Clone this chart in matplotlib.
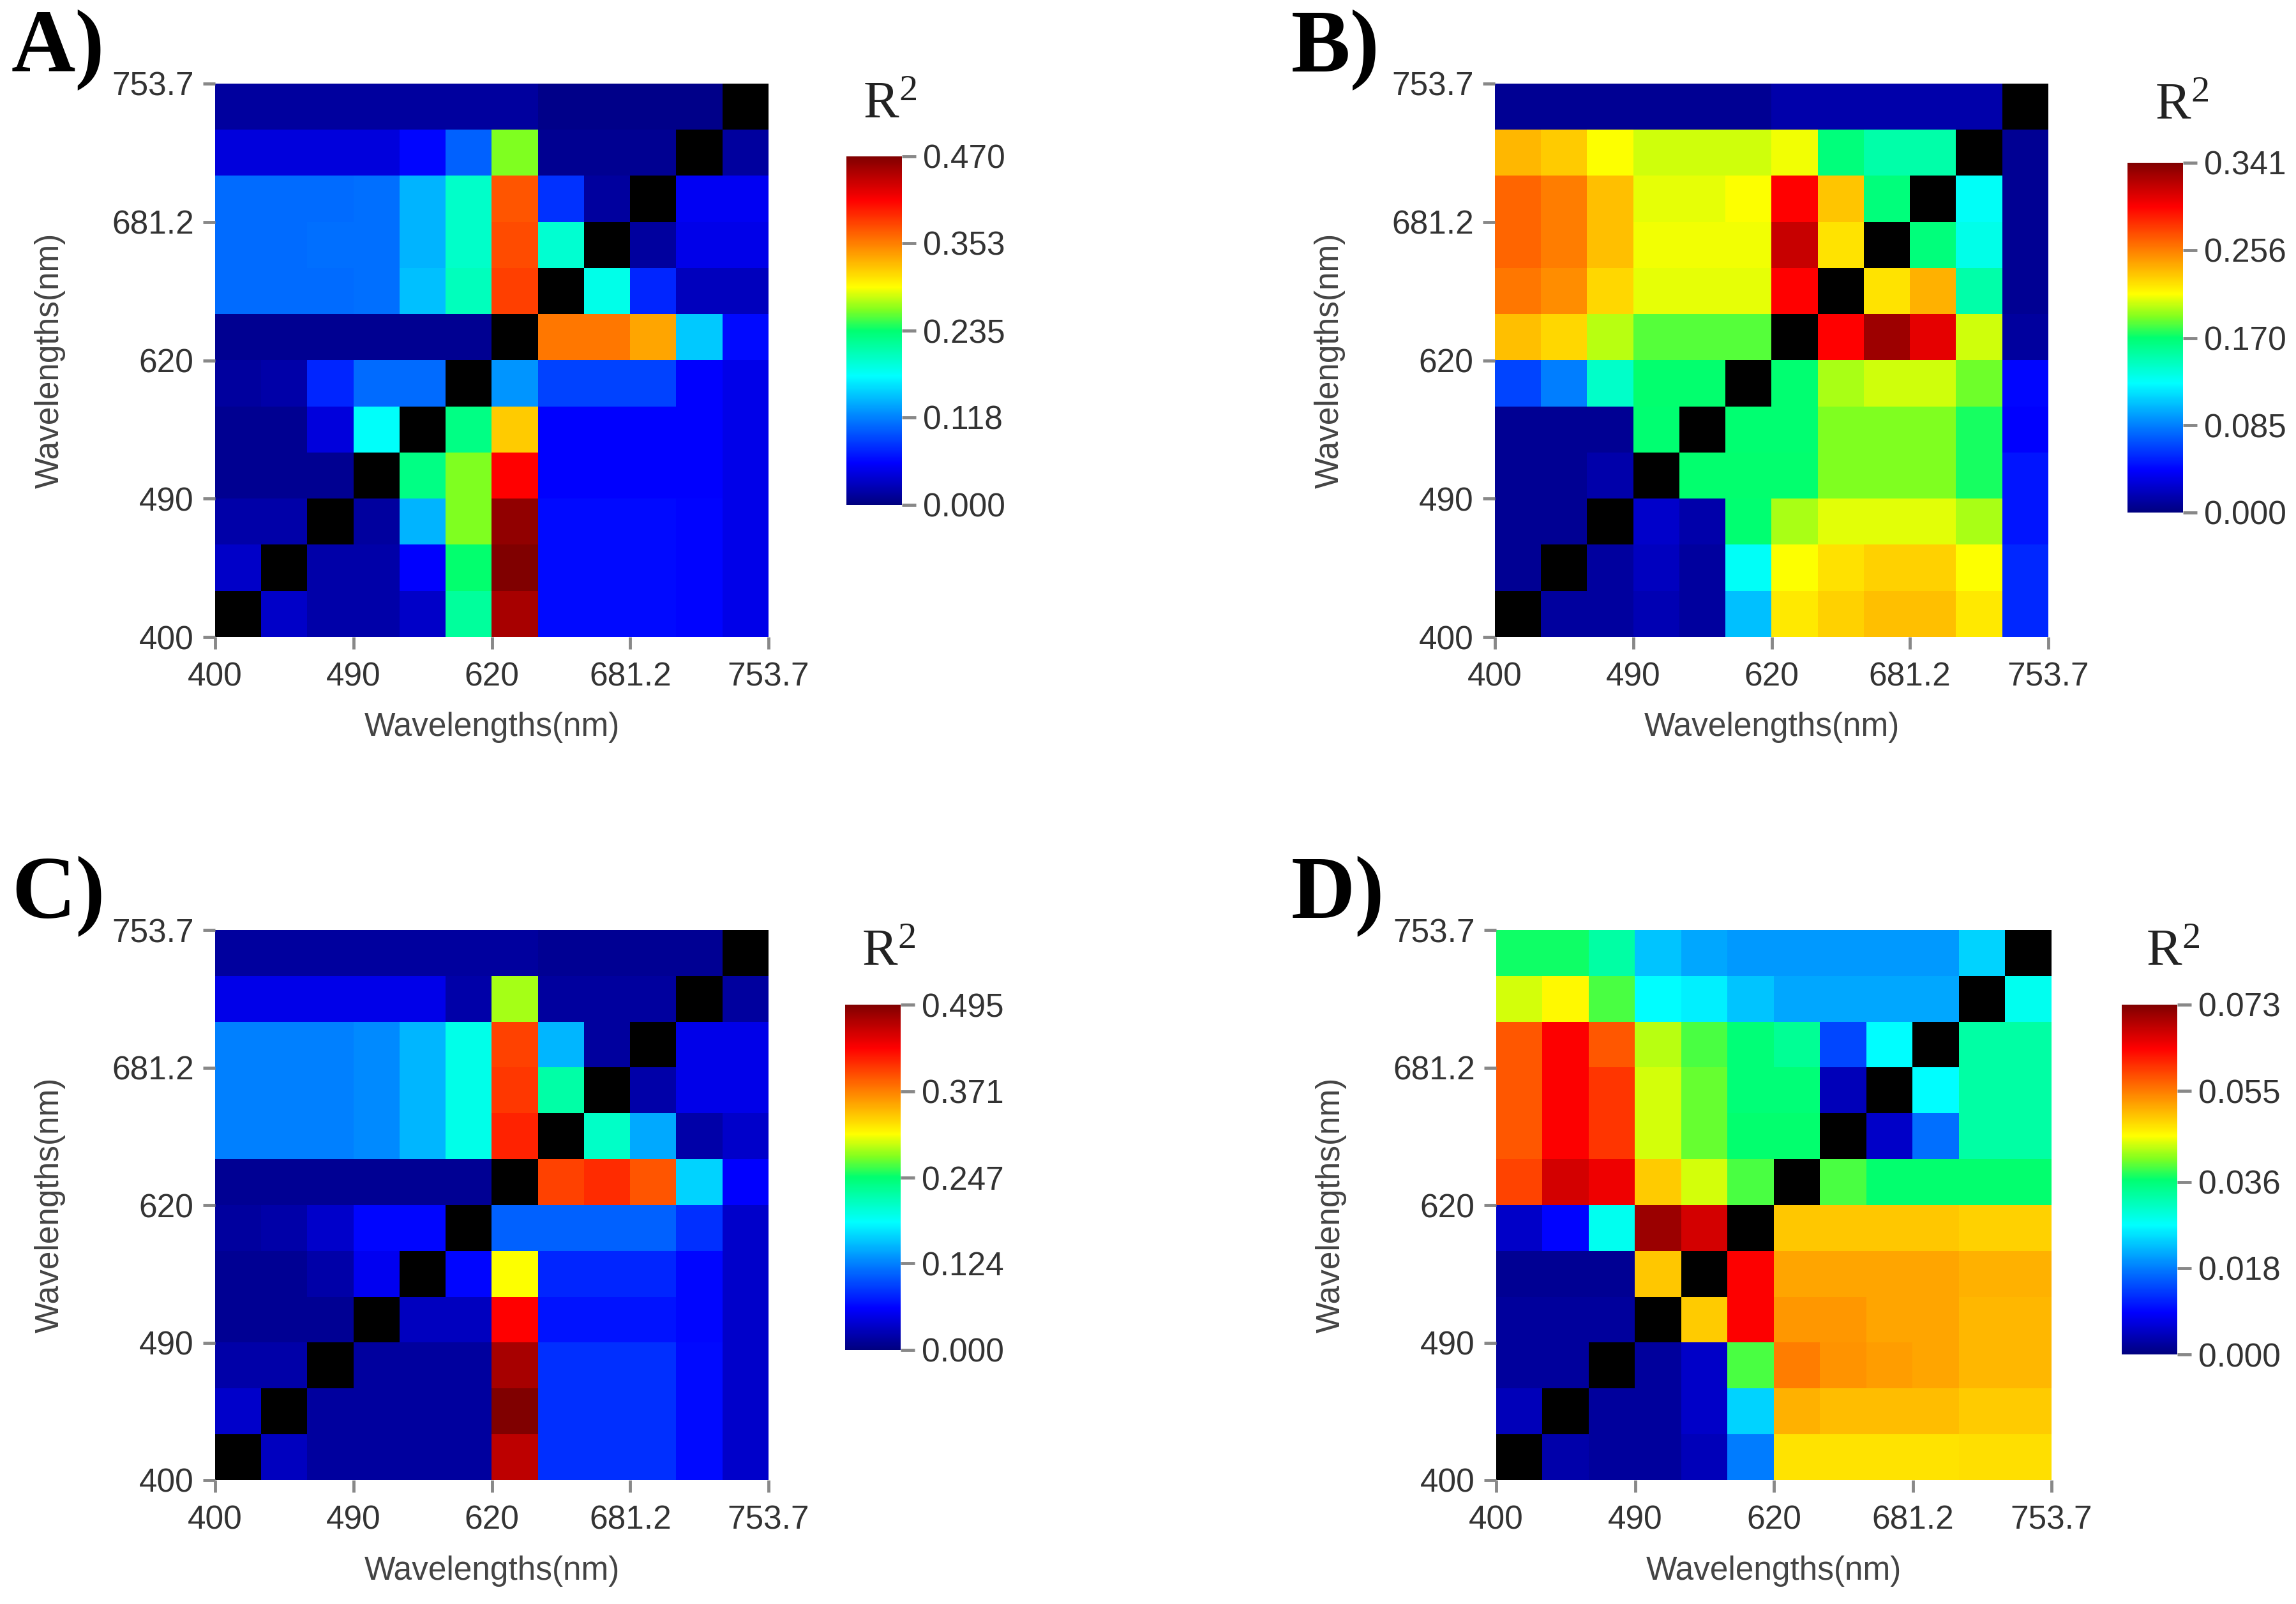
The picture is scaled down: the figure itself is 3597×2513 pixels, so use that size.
import numpy as np
import matplotlib
matplotlib.use("Agg")
import matplotlib.pyplot as plt
from matplotlib.colors import LinearSegmentedColormap

nan = np.nan

# ---------------- data (rows listed from top = 753.7 down to bottom = 400) -------------
wavelength_labels = ["400", "490", "620", "681.2", "753.7"]
wavelength_tick_cells = [0, 3, 6, 9, 12]

A_values = [
    [0.014, 0.014, 0.014, 0.014, 0.014, 0.014, 0.014, 0.005, 0.005, 0.005, 0.005, nan],
    [0.042, 0.042, 0.042, 0.042, 0.059, 0.103, 0.263, 0.009, 0.009, 0.009, nan, 0.014],
    [0.108, 0.108, 0.108, 0.110, 0.141, 0.197, 0.371, 0.080, 0.014, nan, 0.052, 0.052],
    [0.108, 0.108, 0.110, 0.110, 0.141, 0.197, 0.376, 0.193, nan, 0.014, 0.047, 0.047],
    [0.108, 0.108, 0.108, 0.110, 0.146, 0.202, 0.381, nan, 0.183, 0.075, 0.028, 0.028],
    [0.009, 0.009, 0.009, 0.009, 0.009, 0.009, nan, 0.356, 0.356, 0.335, 0.150, 0.061],
    [0.014, 0.019, 0.075, 0.108, 0.108, nan, 0.127, 0.089, 0.089, 0.089, 0.056, 0.047],
    [0.009, 0.009, 0.042, 0.176, nan, 0.226, 0.317, 0.056, 0.056, 0.056, 0.056, 0.047],
    [0.009, 0.009, 0.009, nan, 0.226, 0.263, 0.411, 0.056, 0.056, 0.056, 0.056, 0.047],
    [0.019, 0.019, nan, 0.014, 0.141, 0.263, 0.461, 0.061, 0.061, 0.061, 0.058, 0.047],
    [0.033, nan, 0.019, 0.019, 0.056, 0.235, 0.470, 0.061, 0.061, 0.061, 0.058, 0.047],
    [nan, 0.033, 0.019, 0.019, 0.033, 0.216, 0.451, 0.061, 0.061, 0.061, 0.058, 0.047],
]
A_cbar_ticks = [0.000, 0.118, 0.235, 0.353, 0.470]

B_values = [
    [0.007, 0.007, 0.007, 0.007, 0.007, 0.007, 0.014, 0.014, 0.014, 0.014, 0.014, nan],
    [0.237, 0.230, 0.213, 0.205, 0.205, 0.205, 0.211, 0.167, 0.153, 0.153, nan, 0.007],
    [0.264, 0.256, 0.234, 0.209, 0.209, 0.213, 0.298, 0.232, 0.167, nan, 0.128, 0.007],
    [0.264, 0.256, 0.234, 0.211, 0.211, 0.211, 0.317, 0.222, nan, 0.167, 0.133, 0.007],
    [0.258, 0.251, 0.226, 0.209, 0.209, 0.209, 0.298, nan, 0.222, 0.239, 0.153, 0.007],
    [0.234, 0.226, 0.201, 0.184, 0.184, 0.184, nan, 0.298, 0.331, 0.307, 0.205, 0.010],
    [0.065, 0.085, 0.143, 0.171, 0.171, nan, 0.170, 0.198, 0.205, 0.205, 0.188, 0.043],
    [0.007, 0.007, 0.007, 0.170, nan, 0.170, 0.170, 0.191, 0.191, 0.191, 0.174, 0.041],
    [0.007, 0.007, 0.014, nan, 0.171, 0.171, 0.171, 0.191, 0.191, 0.191, 0.174, 0.048],
    [0.007, 0.007, nan, 0.024, 0.014, 0.170, 0.198, 0.208, 0.208, 0.208, 0.198, 0.048],
    [0.007, nan, 0.010, 0.021, 0.010, 0.128, 0.213, 0.223, 0.228, 0.228, 0.213, 0.055],
    [nan, 0.010, 0.010, 0.017, 0.010, 0.106, 0.220, 0.228, 0.234, 0.234, 0.220, 0.055],
]
B_cbar_ticks = [0.000, 0.085, 0.170, 0.256, 0.341]

C_values = [
    [0.015, 0.015, 0.015, 0.015, 0.015, 0.015, 0.015, 0.010, 0.010, 0.010, 0.010, nan],
    [0.050, 0.050, 0.050, 0.050, 0.050, 0.020, 0.287, 0.015, 0.015, 0.015, nan, 0.015],
    [0.124, 0.124, 0.124, 0.129, 0.149, 0.193, 0.401, 0.149, 0.015, nan, 0.050, 0.050],
    [0.124, 0.124, 0.124, 0.129, 0.149, 0.193, 0.406, 0.223, nan, 0.020, 0.050, 0.050],
    [0.124, 0.124, 0.124, 0.129, 0.149, 0.193, 0.416, nan, 0.208, 0.144, 0.020, 0.035],
    [0.010, 0.010, 0.010, 0.010, 0.010, 0.010, nan, 0.401, 0.411, 0.391, 0.163, 0.059],
    [0.015, 0.020, 0.035, 0.062, 0.062, nan, 0.109, 0.109, 0.109, 0.109, 0.084, 0.035],
    [0.010, 0.010, 0.020, 0.054, nan, 0.062, 0.309, 0.079, 0.079, 0.079, 0.062, 0.035],
    [0.010, 0.010, 0.010, nan, 0.030, 0.030, 0.433, 0.069, 0.069, 0.069, 0.062, 0.035],
    [0.020, 0.020, nan, 0.015, 0.015, 0.015, 0.475, 0.084, 0.084, 0.084, 0.064, 0.035],
    [0.035, nan, 0.015, 0.015, 0.015, 0.015, 0.495, 0.084, 0.084, 0.084, 0.064, 0.035],
    [nan, 0.030, 0.015, 0.015, 0.015, 0.015, 0.465, 0.084, 0.084, 0.084, 0.064, 0.035],
]
C_cbar_ticks = [0.000, 0.124, 0.247, 0.371, 0.495]

D_values = [
    [0.037, 0.037, 0.033, 0.023, 0.021, 0.020, 0.020, 0.020, 0.020, 0.020, 0.024, nan],
    [0.044, 0.046, 0.039, 0.027, 0.026, 0.023, 0.021, 0.021, 0.021, 0.021, nan, 0.028],
    [0.0575, 0.064, 0.0575, 0.043, 0.039, 0.036, 0.034, 0.014, 0.027, nan, 0.033, 0.033],
    [0.0575, 0.064, 0.060, 0.044, 0.040, 0.036, 0.036, 0.004, nan, 0.027, 0.033, 0.033],
    [0.0575, 0.064, 0.060, 0.044, 0.040, 0.0365, 0.0365, nan, 0.005, 0.017, 0.033, 0.033],
    [0.059, 0.067, 0.065, 0.0493, 0.044, 0.039, nan, 0.039, 0.0365, 0.0365, 0.0365, 0.0365],
    [0.005, 0.009, 0.028, 0.071, 0.067, nan, 0.0496, 0.0496, 0.0496, 0.0496, 0.0489, 0.0489],
    [0.0015, 0.0015, 0.0015, 0.0496, nan, 0.064, 0.052, 0.052, 0.052, 0.052, 0.0511, 0.0511],
    [0.002, 0.002, 0.002, nan, 0.0493, 0.064, 0.0529, 0.0529, 0.052, 0.052, 0.0507, 0.0507],
    [0.002, 0.002, nan, 0.002, 0.005, 0.039, 0.0548, 0.0533, 0.0526, 0.052, 0.0507, 0.0507],
    [0.004, nan, 0.002, 0.002, 0.005, 0.024, 0.0511, 0.0502, 0.0502, 0.0502, 0.0493, 0.0493],
    [nan, 0.003, 0.002, 0.002, 0.004, 0.018, 0.0475, 0.0475, 0.0475, 0.0475, 0.0478, 0.0478],
]
D_cbar_ticks = [0.000, 0.018, 0.036, 0.055, 0.073]

panel_letters = ["A)", "B)", "C)", "D)"]
axis_label = "Wavelengths(nm)"

# ---------------- styling -------------
W, H = 3597, 2513
fig = plt.figure(figsize=(W / 100, H / 100), dpi=100)

cmap = LinearSegmentedColormap.from_list(
    "r2jet",
    [(0.0, "#00007F"), (0.12, "#0000FF"), (0.25, "#0080FF"), (0.37, "#00FFFF"),
     (0.5, "#00FF70"), (0.56, "#80FF20"), (0.625, "#FFFF00"), (0.75, "#FF7F00"),
     (0.875, "#FF0000"), (1.0, "#800000")], N=512)
cmap.set_bad("black")


def box(x0, y0, x1, y1):
    return [x0 / W, 1 - y1 / H, (x1 - x0) / W, (y1 - y0) / H]


layout = [
    # heatmap box, colorbar box, letter (x, baseline), R2 (x, baseline)
    ((337, 131, 1204, 998), (1326, 245, 1413, 791), (18, 112), (1352, 184)),
    ((2342, 131, 3209, 998), (3333, 255, 3420, 803), (2023, 112), (3376, 186)),
    ((337, 1457, 1204, 2319), (1324, 1574, 1411, 2115), (18, 1438), (1350, 1512)),
    ((2344, 1457, 3214, 2319), (3324, 1574, 3411, 2122), (2023, 1438), (3362, 1512)),
]

datasets = [(A_values, A_cbar_ticks), (B_values, B_cbar_ticks),
            (C_values, C_cbar_ticks), (D_values, D_cbar_ticks)]

tick_color = "#888888"
text_color = "#333333"
sans = ["Liberation Sans", "DejaVu Sans"]
serif = ["Liberation Serif", "DejaVu Serif"]

for (vals, cticks), (hb, cb, lp, rp), letter in zip(datasets, layout, panel_letters):
    M = np.array(vals, dtype=float)
    ax = fig.add_axes(box(*hb))
    im = ax.imshow(M, cmap=cmap, vmin=cticks[0], vmax=cticks[-1], origin="upper",
                   extent=(0, 12, 0, 12), aspect="auto", interpolation="nearest")
    ax.set_xlim(0, 12)
    ax.set_ylim(0, 12)
    ax.set_xticks(wavelength_tick_cells)
    ax.set_xticklabels(wavelength_labels)
    ax.set_yticks(wavelength_tick_cells)
    ax.set_yticklabels(wavelength_labels)
    for s in ax.spines.values():
        s.set_visible(False)
    ax.tick_params(axis="x", length=14, width=3.5, color=tick_color, pad=14,
                   labelsize=37, labelcolor=text_color)
    ax.tick_params(axis="y", length=14, width=3.5, color=tick_color, pad=10,
                   labelsize=37, labelcolor=text_color)
    for t in ax.get_xticklabels() + ax.get_yticklabels():
        t.set_fontfamily(sans)
    ax.set_xlabel(axis_label, fontsize=37, color="#444444", family=sans, va="center")
    ax.set_ylabel(axis_label, fontsize=37, color="#444444", family=sans, va="center")
    hw = hb[2] - hb[0]
    hh = hb[3] - hb[1]
    ax.xaxis.set_label_coords(0.5, -(1140 - 998) / hh)
    ax.yaxis.set_label_coords(-(337 - 78) / hw, 0.5)

    cax = fig.add_axes(box(*cb))
    cbar = fig.colorbar(im, cax=cax, ticks=cticks)
    cbar.ax.set_yticklabels(["%.3f" % t for t in cticks])
    cbar.outline.set_visible(False)
    cbar.ax.tick_params(length=16, width=3.5, color=tick_color, pad=8,
                        labelsize=37, labelcolor=text_color)
    for t in cbar.ax.get_yticklabels():
        t.set_fontfamily(sans)

    fig.text(lp[0] / W, 1 - lp[1] / H, letter, fontsize=100, fontweight="bold",
             family=serif, ha="left", va="baseline", color="black")
    fig.text(rp[0] / W, 1 - rp[1] / H, r"$\mathregular{R^2}$", fontsize=60,
             family=serif, ha="left", va="baseline", color="#222222")

fig.savefig("out.png", dpi=100, facecolor="white")
